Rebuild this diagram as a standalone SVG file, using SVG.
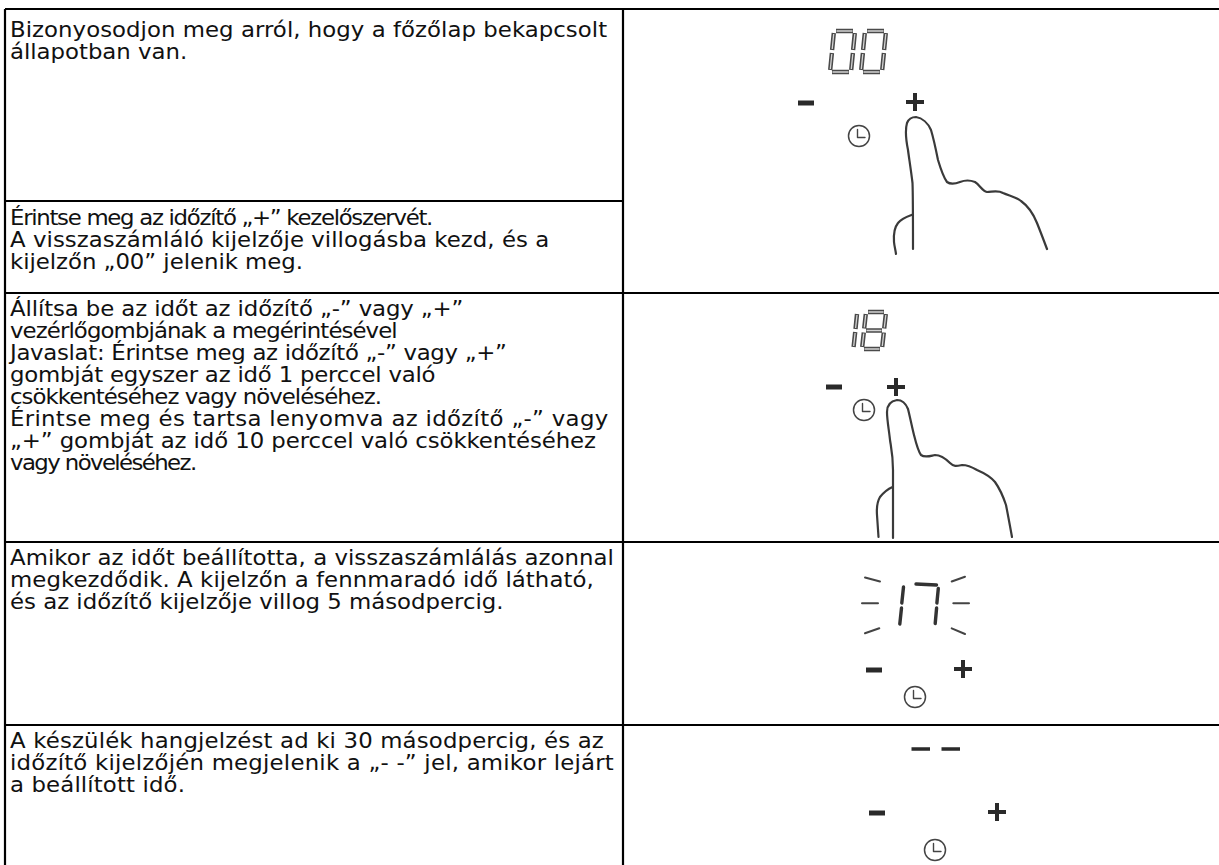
<svg xmlns="http://www.w3.org/2000/svg" width="1219" height="865" viewBox="0 0 1219 865">
  <style>
    .grid { stroke: #000; stroke-width: 2.2; fill: none; }
    .txt { font-family: "DejaVu Sans", "Noto Sans", sans-serif; font-size: 20.5px; fill: #111; }
    .seg-out { stroke: #4a4a4a; stroke-width: 4.4; stroke-linecap: butt; fill: none; }
    .seg-in { stroke: #d4d4d4; stroke-width: 1.3; stroke-linecap: butt; fill: none; }
    .seg-solid { stroke: #333; stroke-width: 3.4; stroke-linecap: round; fill: none; }
    .flash { stroke: #444; stroke-width: 2; stroke-linecap: round; fill: none; }
    .key { stroke: #2a2a2a; fill: none; stroke-linecap: butt; }
    .clock { stroke: #444; stroke-width: 1.5; fill: #fff; }
    .hand { stroke: #444; stroke-width: 1.4; fill: none; stroke-linejoin: round; stroke-linecap: round; }
    .finger { stroke: #3a3a3a; stroke-width: 2.2; fill: none; stroke-linejoin: round; stroke-linecap: round; }
  </style>
  <defs>
    <g id="clock">
      <circle class="clock" cx="0" cy="0" r="10.5"/>
      <path class="hand" d="M-1.5,-6.5 V1.5 H6"/>
    </g>
    <g id="plus">
      <path class="key" stroke-width="4" d="M-9,0 H9 M0,-9 V9"/>
    </g>
    <g id="minus">
      <path class="key" stroke-width="5" d="M-8,0 H8"/>
    </g>
  </defs>

  <rect width="1219" height="865" fill="#fff"/>

  <!-- table rules -->
  <g id="table">
    <path class="grid" d="M5,9 H1219 M5,9 V865 M623,9 V865 M5,201 H623 M5,293 H1219 M5,542 H1219 M5,725 H1219"/>
  </g>

  <!-- step texts (slightly widened face, each line fitted to its measure by spacing) -->
  <g id="texts" class="txt" transform="matrix(1.114 0 0 1 0 0)">
    <g id="step1-text">
      <text x="9" y="37" textLength="536" lengthAdjust="spacing">Bizonyosodjon meg arról, hogy a főzőlap bekapcsolt</text>
      <text x="9" y="59" textLength="159" lengthAdjust="spacing">állapotban van.</text>
    </g>
    <g id="step2-text">
      <text x="9" y="225" textLength="380" lengthAdjust="spacing">Érintse meg az időzítő „+” kezelőszervét.</text>
      <text x="9" y="247" textLength="484" lengthAdjust="spacing">A visszaszámláló kijelzője villogásba kezd, és a</text>
      <text x="9" y="269" textLength="263" lengthAdjust="spacing">kijelzőn „00” jelenik meg.</text>
    </g>
    <g id="step3-text">
      <text x="9" y="316" textLength="407" lengthAdjust="spacing">Állítsa be az időt az időzítő „-” vagy „+”</text>
      <text x="9" y="338" textLength="348" lengthAdjust="spacing">vezérlőgombjának a megérintésével</text>
      <text x="9" y="360" textLength="446" lengthAdjust="spacing">Javaslat: Érintse meg az időzítő „-” vagy „+”</text>
      <text x="9" y="382" textLength="382" lengthAdjust="spacing">gombját egyszer az idő 1 perccel való</text>
      <text x="9" y="404" textLength="334" lengthAdjust="spacing">csökkentéséhez vagy növeléséhez.</text>
      <text x="9" y="426" textLength="537" lengthAdjust="spacing">Érintse meg és tartsa lenyomva az időzítő „-” vagy</text>
      <text x="9" y="448" textLength="526" lengthAdjust="spacing">„+” gombját az idő 10 perccel való csökkentéséhez</text>
      <text x="9" y="470" textLength="168" lengthAdjust="spacing">vagy növeléséhez.</text>
    </g>
    <g id="step4-text">
      <text x="9" y="565" textLength="542" lengthAdjust="spacing">Amikor az időt beállította, a visszaszámlálás azonnal</text>
      <text x="9" y="587" textLength="524" lengthAdjust="spacing">megkezdődik. A kijelzőn a fennmaradó idő látható,</text>
      <text x="9" y="609" textLength="443" lengthAdjust="spacing">és az időzítő kijelzője villog 5 másodpercig.</text>
    </g>
    <g id="step5-text">
      <text x="9" y="748" textLength="533" lengthAdjust="spacing">A készülék hangjelzést ad ki 30 másodpercig, és az</text>
      <text x="9" y="770" textLength="542" lengthAdjust="spacing">időzítő kijelzőjén megjelenik a „- -” jel, amikor lejárt</text>
      <text x="9" y="792" textLength="157" lengthAdjust="spacing">a beállított idő.</text>
    </g>
  </g>

  <!-- panel 1: display "00", finger on + -->
  <g id="panel1">
    <g id="digits-00">
      <path class="seg-out" d="M836,31 H853 M854.8,33 L853.1,50 M852.9,53 L851.2,70 M849,72 H832 M830.2,70 L831.9,53 M832.1,50 L833.8,33"/>
      <path class="seg-in" d="M836.5,31 H852.5 M854.8,34 L853.2,49 M852.8,54 L851.3,69 M848.5,72 H832.5 M830.3,69 L831.8,54 M832.2,49 L833.7,34"/>
      <path class="seg-out" d="M867,31 H884 M885.8,33 L884.1,50 M883.9,53 L882.2,70 M880,72 H863 M861.2,70 L862.9,53 M863.1,50 L864.8,33"/>
      <path class="seg-in" d="M867.5,31 H883.5 M885.8,34 L884.2,49 M883.8,54 L882.3,69 M879.5,72 H863.5 M861.3,69 L862.8,54 M863.2,49 L864.7,34"/>
    </g>
    <use href="#minus" x="806" y="103"/>
    <use href="#plus" x="915" y="102"/>
    <use href="#clock" x="859" y="136"/>
    <path class="finger" d="M913,249 C913,220 913,195 912.5,183 C911,170 909,158 908,150 C906,140 905,130 907,123 C909,118 913,117 916,117 C922,118 928,123 931,130 C934,140 936,150 938,160 C941,170 944,178 947,182 C951,185 955,184 960,182 C965,180 970,180 975,182 C980,185 982,191 987,192 C992,192 998,190 1003,193 C1010,196 1016,197 1021,201 C1028,206 1033,213 1037,223 C1041,233 1044,241 1047,249"/>
    <path class="finger" d="M911.5,215 C906,217 901,219 898,223 C894,228 893.5,235 894,242 C894.5,247 895.5,250 896,254"/>
  </g>

  <!-- panel 2: display "18", finger on + -->
  <g id="panel2">
    <g id="digits-18">
      <path class="seg-out" d="M857,314 L855.5,329 M855.2,332 L853.6,347"/>
      <path class="seg-in" d="M857,315 L855.6,328 M855.1,333 L853.7,346"/>
      <path class="seg-out" d="M868,312 H884 M885.8,314 L884.2,328.5 M866,330.5 H882 M883.8,332.5 L882.2,347 M880,349 H864 M862.2,347 L863.8,332.5 M864.2,328.5 L865.8,314"/>
      <path class="seg-in" d="M868.5,312 H883.5 M885.8,315 L884.3,327.5 M866.5,330.5 H881.5 M883.7,333.5 L882.3,346 M879.5,349 H864.5 M862.3,346 L863.7,333.5 M864.3,327.5 L865.7,315"/>
    </g>
    <use href="#minus" x="834" y="387"/>
    <use href="#plus" x="896" y="387"/>
    <use href="#clock" x="864" y="410"/>
    <path class="finger" d="M893,538 C893,520 893,495 893,470 C893,455 891,447 890,440 C889,430 887,420 887,412 C887,405 891,401 897,400 C902,400 906,404 908,409 C910,417 912,427 914,435 C916,443 918,451 921,455 C925,458 930,456 935,455 C941,455 946,459 950,463 C954,467 957,466 962,465 C968,465 972,467 977,470 C984,473 990,476 995,482 C1000,489 1003,496 1006,505 C1008,515 1010,526 1012,537"/>
    <path class="finger" d="M892.5,487 C888,489 884,492 880,497 C877,502 876.5,508 877,515 C877.5,523 878,530 878.5,537"/>
  </g>

  <!-- panel 3: blinking "17" -->
  <g id="panel3">
    <g id="digits-17">
      <path class="seg-solid" d="M903.5,587 L901.8,603 M901.5,608 L899.8,624"/>
      <path class="seg-solid" d="M916,584 L936.5,585 M938.3,588.5 L936.9,603 M936.6,608 L935.2,623.5"/>
    </g>
    <g id="blink-marks">
      <path class="flash" d="M865,577.5 L880,581.5 M862,603.3 H878 M865,633.3 L879.3,628.3"/>
      <path class="flash" d="M951.7,581.5 L965,576.7 M953.3,603.3 H969 M951.7,628.3 L965,634"/>
    </g>
    <use href="#minus" x="874" y="670"/>
    <use href="#plus" x="963" y="669"/>
    <use href="#clock" x="915" y="697"/>
  </g>

  <!-- panel 4: "- -" after timer expiry -->
  <g id="panel4">
    <path class="key" stroke-width="3.5" d="M911.5,749 H930 M941.5,749 H960"/>
    <use href="#minus" x="877" y="813"/>
    <use href="#plus" x="997" y="812"/>
    <use href="#clock" x="935" y="850"/>
  </g>
</svg>
